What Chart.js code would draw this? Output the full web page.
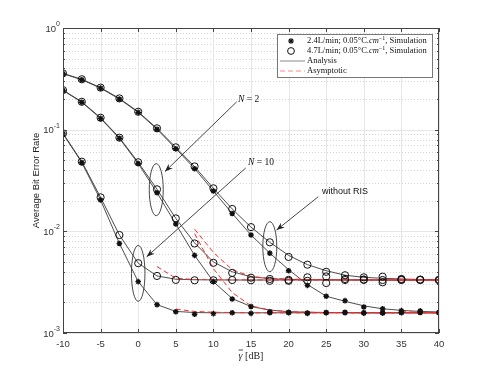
<!DOCTYPE html>
<html>
<head>
<meta charset="utf-8">
<script src="https://cdn.jsdelivr.net/npm/chart.js@4.4.0/dist/chart.umd.min.js"></script>
<style>
    html, body { margin: 0; padding: 0; background: #fff; }
    #wrap { width: 485px; height: 375px; }
</style>
</head>
<body>
<div id="wrap"><canvas id="ber"></canvas></div>
<script>
/* -----------------------------------------
   data
----------------------------------------- */
const snr = [-10, -7.5, -5, -2.5, 0, 2.5, 5, 7.5, 10, 12.5, 15, 17.5, 20, 22.5, 25, 27.5, 30, 32.5, 35, 37.5, 40];
const xTicks = [-10, -5, 0, 5, 10, 15, 20, 25, 30, 35, 40];
const yDecades = [-3, -2, -1, 0];

// simulation, 2.4 L/min (star) and 4.7 L/min (circle)
const simNoRisS = [0.355, 0.310, 0.256, 0.200, 0.148, 0.101, 0.065, 0.0413, 0.0249, 0.0150, 0.0092, 0.0061, 0.0041, 0.00294, 0.0023, 0.00208, 0.0018, 0.00173, 0.00166, 0.00165, 0.0016];
const simNoRisO = [0.358, 0.313, 0.259, 0.203, 0.150, 0.103, 0.067, 0.0435, 0.0265, 0.0166, 0.0110, 0.0078, 0.0056, 0.0047, 0.0040, 0.0037, 0.00353, 0.00358, 0.0034, 0.00335, 0.00332];
const simN2S = [0.243, 0.186, 0.129, 0.0822, 0.0465, 0.0240, 0.0118, 0.0058, 0.0032, 0.00216, 0.00182, 0.00162, 0.0016, 0.00157, 0.00159, 0.0016, 0.00158, 0.00157, 0.0016, 0.00159, 0.00158];
const simN2O = [0.245, 0.188, 0.131, 0.0834, 0.0478, 0.0259, 0.0134, 0.0076, 0.0049, 0.0039, 0.0035, 0.0034, 0.00326, 0.00353, 0.0031, 0.0034, 0.00336, 0.00315, 0.00332, 0.00333, 0.00332];
const simN10S = [0.091, 0.0475, 0.0203, 0.0076, 0.0032, 0.0019, 0.00162, 0.00153, 0.00155, 0.00158, 0.00156, 0.00158, 0.00158, 0.00156, 0.00158, 0.00158, 0.00157, 0.00158, 0.00158, 0.0016, 0.00158];
const simN10O = [0.092, 0.0484, 0.0216, 0.0092, 0.00486, 0.00364, 0.00333, 0.0033, 0.0033, 0.00332, 0.0033, 0.00326, 0.00333, 0.00326, 0.0036, 0.00332, 0.00333, 0.00332, 0.00335, 0.00333, 0.00332];

// analysis
const anNoRisS = [0.355, 0.310, 0.256, 0.200, 0.148, 0.101, 0.065, 0.0415, 0.0249, 0.0150, 0.0092, 0.0061, 0.0042, 0.0030, 0.0023, 0.00205, 0.00185, 0.00173, 0.00167, 0.00163, 0.00161];
const anNoRisO = [0.358, 0.313, 0.259, 0.203, 0.150, 0.103, 0.067, 0.0433, 0.0265, 0.0166, 0.0110, 0.0078, 0.0058, 0.0047, 0.0041, 0.0037, 0.00353, 0.00345, 0.0034, 0.00336, 0.00334];
const anN2S = [0.243, 0.186, 0.129, 0.0822, 0.0465, 0.0240, 0.0118, 0.0058, 0.0032, 0.00218, 0.00182, 0.00168, 0.00162, 0.0016, 0.00159, 0.00159, 0.00158, 0.00158, 0.00158, 0.00158, 0.00158];
const anN2O = [0.245, 0.188, 0.131, 0.0834, 0.0478, 0.0259, 0.0134, 0.0077, 0.0050, 0.0040, 0.00358, 0.00342, 0.00337, 0.00335, 0.00334, 0.00333, 0.00333, 0.00332, 0.00332, 0.00332, 0.00332];
const anN10S = [0.091, 0.0475, 0.0203, 0.0076, 0.0032, 0.0019, 0.00163, 0.00159, 0.00158, 0.00158, 0.00158, 0.00158, 0.00158, 0.00158, 0.00158, 0.00158, 0.00158, 0.00158, 0.00158, 0.00158, 0.00158];
const anN10O = [0.092, 0.0484, 0.0216, 0.0092, 0.00486, 0.00364, 0.00338, 0.00334, 0.00333, 0.00332, 0.00332, 0.00332, 0.00332, 0.00332, 0.00332, 0.00332, 0.00332, 0.00332, 0.00332, 0.00332, 0.00332];

// asymptotic (null = not drawn)
const asNoRisS = [null, null, null, null, null, null, null, null, null, null, null, null, null, null, null, null, null, null, 0.00162, 0.0016, 0.00158];
const asNoRisO = [null, null, null, null, null, null, null, null, null, null, null, null, null, null, null, null, null, 0.00336, 0.00334, 0.00333, 0.00332];
const asN2S = [null, null, null, null, null, null, null, 0.0095, 0.0043, 0.0025, 0.00185, 0.00168, 0.00162, 0.0016, 0.00159, 0.00158, 0.00158, 0.00158, 0.00158, 0.00158, 0.00158];
const asN2O = [null, null, null, null, null, null, null, 0.0105, 0.0062, 0.0042, 0.0036, 0.00345, 0.0034, 0.00336, 0.00334, 0.00333, 0.00333, 0.00332, 0.00332, 0.00332, 0.00332];
const asN10S = [null, null, null, null, null, null, 0.00172, 0.00163, 0.0016, 0.00159, 0.00158, 0.00158, 0.00158, 0.00158, 0.00158, 0.00158, 0.00158, 0.00158, 0.00158, 0.00158, 0.00158];
const asN10O = [null, null, null, null, null, 0.0045, 0.00346, 0.00336, 0.00334, 0.00333, 0.00333, 0.00332, 0.00332, 0.00332, 0.00332, 0.00332, 0.00332, 0.00332, 0.00332, 0.00332, 0.00332];

/* -----------------------------------------
   datasets
----------------------------------------- */
function pts(arr) {
    return snr.map((x, i) => ({ x: x, y: arr[i] }));
}

function simSet(arr, star) {
    return {
        data: pts(arr),
        showLine: false,
        pointStyle: star ? "star" : "circle",
        pointRadius: star ? 2.8 : 3.6,
        borderWidth: star ? 1.4 : 1,
        borderColor: "#111",
        backgroundColor: star ? "#111" : "rgba(0,0,0,0)",
        order: 0
    };
}

function anSet(arr) {
    return {
        data: pts(arr),
        borderColor: "#3a3a3a",
        borderWidth: 0.9,
        pointRadius: 0,
        order: 2
    };
}

function asSet(arr) {
    return {
        data: pts(arr),
        borderColor: "#ff2b2b",
        borderWidth: 1,
        borderDash: [5, 3],
        pointRadius: 0,
        spanGaps: false,
        order: 1
    };
}

const datasets = [
    simSet(simNoRisS, true), simSet(simNoRisO, false),
    simSet(simN2S, true), simSet(simN2O, false),
    simSet(simN10S, true), simSet(simN10O, false),
    asSet(asNoRisS), asSet(asNoRisO), asSet(asN2S), asSet(asN2O), asSet(asN10S), asSet(asN10O),
    anSet(anNoRisS), anSet(anNoRisO), anSet(anN2S), anSet(anN2O), anSet(anN10S), anSet(anN10O)
];

/* -----------------------------------------
   annotations (data coordinates)
----------------------------------------- */
const ellipses = [
    { x: 2.4, y: 0.0257, dx: 0.93, dd: 0.256 },
    { x: 0, y: 0.00386, dx: 0.9, dd: 0.275 },
    { x: 17.5, y: 0.00706, dx: 0.93, dd: 0.246 }
];
const arrows = [
    { x1: 13.1, y1: 0.188, x2: 3.56, y2: 0.0387 },
    { x1: 14.3, y1: 0.042, x2: 1.13, y2: 0.00562 },
    { x1: 23.95, y1: 0.0219, x2: 18.4, y2: 0.0103 }
];

const SANS = "'Liberation Sans', Arial, sans-serif";
const SERIF = "'Liberation Serif', 'DejaVu Serif', serif";

function seg(ctx, x, y, parts) {
    parts.forEach(p => {
        ctx.font = p[1];
        ctx.fillText(p[0], x, y + (p[2] || 0));
        x += ctx.measureText(p[0]).width;
    });
    return x;
}

function line(ctx, x1, y1, x2, y2) {
    ctx.beginPath();
    ctx.moveTo(x1, y1);
    ctx.lineTo(x2, y2);
    ctx.stroke();
}

const decor = {
    id: "decor",
    beforeDatasetsDraw(chart) {
        const { ctx, chartArea: a, scales: { x, y } } = chart;
        ctx.save();
        ctx.lineWidth = 1;

        // minor grid (dotted)
        ctx.strokeStyle = "#d4d4d4";
        ctx.setLineDash([1, 2]);
        for (let e = -3; e < 0; e++) {
            for (let m = 2; m <= 9; m++) {
                const py = Math.round(y.getPixelForValue(m * Math.pow(10, e))) + 0.5;
                line(ctx, a.left, py, a.right, py);
            }
        }
        ctx.setLineDash([]);

        // major grid
        ctx.strokeStyle = "#e6e6e6";
        yDecades.forEach(e => {
            const py = Math.round(y.getPixelForValue(Math.pow(10, e))) + 0.5;
            line(ctx, a.left, py, a.right, py);
        });
        xTicks.forEach(v => {
            const px = Math.round(x.getPixelForValue(v)) + 0.5;
            line(ctx, px, a.top, px, a.bottom);
        });
        ctx.restore();
    },
    afterDatasetsDraw(chart) {
        const { ctx, chartArea: a, scales: { x, y } } = chart;
        ctx.save();

        // ellipses + arrows
        ctx.strokeStyle = "#333";
        ctx.fillStyle = "#222";
        ctx.lineWidth = 0.9;
        ellipses.forEach(el => {
            const cx = x.getPixelForValue(el.x);
            const cy = y.getPixelForValue(el.y);
            const rx = x.getPixelForValue(el.x + el.dx) - cx;
            const ry = cy - y.getPixelForValue(el.y * Math.pow(10, el.dd));
            ctx.beginPath();
            ctx.ellipse(cx, cy, rx, ry, 0, 0, Math.PI * 2);
            ctx.stroke();
        });
        arrows.forEach(ar => {
            const x1 = x.getPixelForValue(ar.x1), y1 = y.getPixelForValue(ar.y1);
            const x2 = x.getPixelForValue(ar.x2), y2 = y.getPixelForValue(ar.y2);
            line(ctx, x1, y1, x2, y2);
            const ang = Math.atan2(y2 - y1, x2 - x1);
            ctx.beginPath();
            ctx.moveTo(x2, y2);
            ctx.lineTo(x2 - 8 * Math.cos(ang) + 3 * Math.sin(ang), y2 - 8 * Math.sin(ang) - 3 * Math.cos(ang));
            ctx.lineTo(x2 - 5.5 * Math.cos(ang), y2 - 5.5 * Math.sin(ang));
            ctx.lineTo(x2 - 8 * Math.cos(ang) - 3 * Math.sin(ang), y2 - 8 * Math.sin(ang) + 3 * Math.cos(ang));
            ctx.closePath();
            ctx.fill();
        });

        // labels
        ctx.fillStyle = "#111";
        ctx.textBaseline = "middle";
        ctx.textAlign = "left";
        seg(ctx, x.getPixelForValue(13.27), y.getPixelForValue(0.2), [
            ["N", "italic 9.5px " + SERIF], [" = 2", "9.5px " + SERIF]
        ]);
        seg(ctx, x.getPixelForValue(14.6), y.getPixelForValue(0.048), [
            ["N", "italic 9.5px " + SERIF], [" = 10", "9.5px " + SERIF]
        ]);
        ctx.font = "9px " + SANS;
        ctx.fillText("without RIS", x.getPixelForValue(24.44), y.getPixelForValue(0.0247));

        // axes box + ticks
        ctx.strokeStyle = "#444";
        ctx.lineWidth = 1;
        ctx.strokeRect(a.left + 0.5, a.top + 0.5, a.right - a.left - 1, a.bottom - a.top - 1);
        xTicks.forEach(v => {
            const px = Math.round(x.getPixelForValue(v)) + 0.5;
            line(ctx, px, a.bottom, px, a.bottom - 4);
            line(ctx, px, a.top, px, a.top + 4);
        });
        for (let e = -3; e <= 0; e++) {
            const py = Math.round(y.getPixelForValue(Math.pow(10, e))) + 0.5;
            line(ctx, a.left, py, a.left + 4, py);
            line(ctx, a.right, py, a.right - 4, py);
            if (e === 0) continue;
            for (let m = 2; m <= 9; m++) {
                const q = Math.round(y.getPixelForValue(m * Math.pow(10, e))) + 0.5;
                line(ctx, a.left, q, a.left + 2, q);
                line(ctx, a.right, q, a.right - 2, q);
            }
        }

        // y tick labels 10^n
        ctx.fillStyle = "#333";
        yDecades.forEach(e => {
            const py = y.getPixelForValue(Math.pow(10, e));
            const ex = e === 0 ? "0" : "-" + (-e);
            ctx.font = "7px " + SANS;
            const ew = ctx.measureText(ex).width;
            ctx.textAlign = "left";
            ctx.fillText(ex, a.left - 3 - ew, py - 4);
            ctx.font = "9.5px " + SANS;
            ctx.textAlign = "right";
            ctx.fillText("10", a.left - 3 - ew, py + 1);
        });

        // axis titles
        ctx.save();
        ctx.translate(36, (a.top + a.bottom) / 2);
        ctx.rotate(-Math.PI / 2);
        ctx.textAlign = "center";
        ctx.font = "9.5px " + SANS;
        ctx.fillStyle = "#222";
        ctx.fillText("Average Bit Error Rate", 0, 0);
        ctx.restore();

        const cx = (a.left + a.right) / 2;
        ctx.fillStyle = "#222";
        ctx.textAlign = "left";
        ctx.font = "italic 10px " + SERIF;
        const gw = ctx.measureText("\u03b3").width;
        ctx.font = "10px " + SERIF;
        const tw = gw + ctx.measureText(" [dB]").width;
        const tx = cx - tw / 2;
        const ty = a.bottom + 23;
        seg(ctx, tx, ty, [["\u03b3", "italic 10px " + SERIF], [" [dB]", "10px " + SERIF]]);
        ctx.strokeStyle = "#222";
        ctx.lineWidth = 0.8;
        line(ctx, tx, ty - 6, tx + gw + 0.5, ty - 6);

        // legend
        const lw = 155, lh = 43;
        const lx = a.right - 7 - lw, ly = a.top + 6;
        ctx.fillStyle = "#fff";
        ctx.fillRect(lx, ly, lw, lh);
        ctx.strokeStyle = "#777";
        ctx.lineWidth = 1;
        ctx.strokeRect(lx + 0.5, ly + 0.5, lw, lh);

        const mx = lx + 14, txl = lx + 30;
        const rows = [ly + 7, ly + 17, ly + 27, ly + 37];
        ctx.strokeStyle = "#111";
        ctx.fillStyle = "#111";
        ctx.lineWidth = 1.3;
        for (let k = 0; k < 4; k++) {
            const ang = k * Math.PI / 4;
            line(ctx, mx - 2.8 * Math.cos(ang), rows[0] - 2.8 * Math.sin(ang), mx + 2.8 * Math.cos(ang), rows[0] + 2.8 * Math.sin(ang));
        }
        ctx.lineWidth = 1;
        ctx.beginPath();
        ctx.arc(mx, rows[1], 3.4, 0, Math.PI * 2);
        ctx.stroke();
        ctx.strokeStyle = "#8a8a8a";
        line(ctx, lx + 3, rows[2], lx + 28, rows[2]);
        ctx.strokeStyle = "#ff8a8a";
        ctx.setLineDash([5, 3]);
        line(ctx, lx + 3, rows[3], lx + 28, rows[3]);
        ctx.setLineDash([]);

        ctx.fillStyle = "#111";
        ctx.textAlign = "left";
        const fn = "8.5px " + SERIF, fi = "italic 8.5px " + SERIF, fs = "6px " + SERIF;
        seg(ctx, txl, rows[0], [["2.4L/min; 0.05\u00b0C.", fn], ["cm", fi], ["\u22121", fs, -3], [", Simulation", fn]]);
        seg(ctx, txl, rows[1], [["4.7L/min; 0.05\u00b0C.", fn], ["cm", fi], ["\u22121", fs, -3], [", Simulation", fn]]);
        seg(ctx, txl, rows[2], [["Analysis", fn]]);
        seg(ctx, txl, rows[3], [["Asymptotic", fn]]);

        ctx.restore();
    }
};

/* -----------------------------------------
   chart
----------------------------------------- */
new Chart(document.getElementById("ber"), {
    type: "line",
    data: { datasets: datasets },
    options: {
        responsive: true,
        maintainAspectRatio: false,
        animation: false,
        devicePixelRatio: 1,
        layout: { padding: { left: 0, top: 28, right: 46, bottom: 0 } },
        plugins: { legend: { display: false }, tooltip: { enabled: false } },
        scales: {
            x: {
                type: "linear",
                min: -10,
                max: 40,
                afterFit: s => { s.height = 42; },
                afterBuildTicks: s => { s.ticks = xTicks.map(v => ({ value: v })); },
                ticks: { color: "#333", padding: 6, font: { family: SANS, size: 9.5 } },
                grid: { display: false, drawTicks: false },
                border: { display: false }
            },
            y: {
                type: "logarithmic",
                min: 0.001,
                max: 1,
                afterFit: s => { s.width = 63; },
                ticks: { display: false },
                grid: { display: false, drawTicks: false },
                border: { display: false }
            }
        }
    },
    plugins: [decor]
});
</script>
</body>
</html>
